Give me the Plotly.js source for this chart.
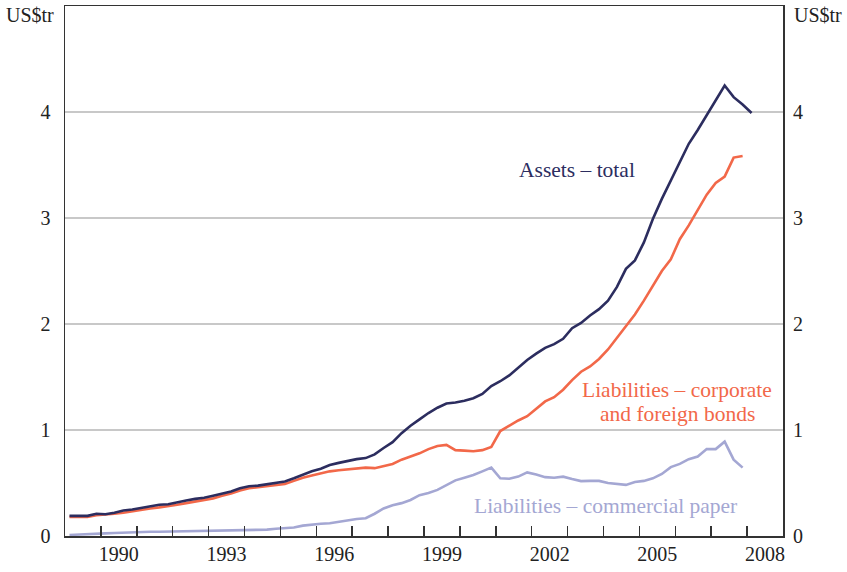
<!DOCTYPE html>
<html>
<head>
<meta charset="utf-8">
<script src="https://cdn.plot.ly/plotly-3.0.1.min.js"></script>
<style>html,body{margin:0;padding:0;background:#fff;}#chart{width:847px;height:572px;}</style>
</head>
<body>
<div id="chart"></div>
<script>
// Quarterly observations (mid-quarter), starting 1989 Q1
const startYear = 1989.125;
const assetsTotal = [0.19,0.19,0.19,0.21,0.205,0.22,0.24,0.25,0.265,0.28,0.295,0.30,0.32,0.335,0.35,0.36,0.38,0.40,0.42,0.45,
  0.47,0.475,0.49,0.50,0.515,0.545,0.58,0.61,0.635,0.67,0.69,0.71,0.725,0.735,0.77,0.83,0.885,0.97,1.04,1.10,
  1.16,1.21,1.25,1.26,1.275,1.30,1.34,1.415,1.46,1.515,1.585,1.66,1.72,1.775,1.81,1.86,1.96,2.01,2.08,2.14,
  2.22,2.35,2.52,2.60,2.77,2.99,3.18,3.35,3.53,3.70,3.83,3.97,4.12,4.25,4.14,4.07,3.99];
const liabBonds = [0.18,0.18,0.18,0.195,0.20,0.21,0.22,0.235,0.245,0.26,0.27,0.28,0.295,0.31,0.325,0.34,0.355,0.38,0.40,0.43,
  0.45,0.46,0.47,0.48,0.49,0.52,0.55,0.57,0.59,0.61,0.62,0.63,0.635,0.645,0.64,0.66,0.68,0.72,0.75,0.78,
  0.82,0.85,0.86,0.81,0.805,0.80,0.81,0.84,0.99,1.04,1.09,1.13,1.20,1.27,1.31,1.38,1.47,1.55,1.60,1.67,
  1.76,1.87,1.99,2.09,2.22,2.36,2.50,2.61,2.80,2.93,3.08,3.22,3.33,3.39,3.57,3.585];
const liabCP = [0.01,0.012,0.015,0.02,0.025,0.028,0.032,0.035,0.038,0.04,0.04,0.042,0.043,0.045,0.048,0.05,0.05,0.048,0.05,0.052,
  0.055,0.056,0.06,0.068,0.074,0.08,0.098,0.11,0.115,0.12,0.135,0.15,0.16,0.168,0.21,0.26,0.29,0.31,0.34,0.385,
  0.405,0.435,0.48,0.525,0.55,0.575,0.61,0.645,0.545,0.54,0.56,0.60,0.58,0.555,0.55,0.56,0.537,0.518,0.52,0.52,
  0.50,0.49,0.482,0.51,0.52,0.544,0.585,0.65,0.68,0.725,0.75,0.82,0.82,0.89,0.72,0.645];
const yearTicks = [1990,1991,1992,1993,1994,1995,1996,1997,1998,1999,2000,2001,2002,2003,2004,2005,2006,2007,2008];
const yearLabels = ['1990','1993','1996','1999','2002','2005','2008'];
const yTicks = [0,1,2,3,4];
const unitLabel = 'US$tr';
const labelAssets = 'Assets – total';
const labelBonds1 = 'Liabilities – corporate';
const labelBonds2 = 'and foreign bonds';
const labelCP = 'Liabilities – commercial paper';

const COL_A = '#2c2d5f', COL_B = '#f26849', COL_C = '#a4a7d3';
const dates = n => Array.from({length:n},(_,i)=>startYear + 0.25*i);
const FONT = 'Liberation Serif, Times New Roman, serif';

const traces = [
  {x: dates(liabCP.length), y: liabCP, type:'scatter', mode:'lines', line:{color:COL_C, width:2.6}, hoverinfo:'skip'},
  {x: dates(liabBonds.length), y: liabBonds, type:'scatter', mode:'lines', line:{color:COL_B, width:2.6}, hoverinfo:'skip'},
  {x: dates(assetsTotal.length), y: assetsTotal, type:'scatter', mode:'lines', line:{color:COL_A, width:2.6}, hoverinfo:'skip'},
  {x: [1989, 2009], y: [null, null], xaxis:'x2', yaxis:'y2', type:'scatter', mode:'lines', showlegend:false, hoverinfo:'skip'}
];

const layout = {
  width: 847, height: 572,
  margin: {l:65, r:64, t:6, b:36},
  paper_bgcolor:'#fff', plot_bgcolor:'#fff',
  showlegend:false,
  font:{family:FONT, size:20, color:'#222'},
  xaxis: {range:[1989,2009], tickmode:'array', tickvals:yearTicks, showticklabels:false,
          ticks:'inside', ticklen:10, tickwidth:1.5, tickcolor:'#333',
          showgrid:false, zeroline:false, showline:true, linecolor:'#333', linewidth:1.5, mirror:true},
  xaxis2: {range:[1989,2009], overlaying:'x', side:'bottom', anchor:'y', tickmode:'array',
           tickvals: yearLabels.map(s=>+s+0.5), ticktext: yearLabels, ticks:'', showgrid:false,
           zeroline:false, showline:false, ticklabelstandoff:4, tickfont:{family:FONT, size:20, color:'#222'}},
  yaxis: {range:[0,5], tickmode:'array', tickvals:yTicks, ticks:'', showgrid:true, gridcolor:'#c8c8c8', gridwidth:1.3,
          zeroline:false, showline:true, linecolor:'#333', linewidth:1.5, mirror:true, ticklabelstandoff:9,
          tickfont:{family:FONT, size:20, color:'#222'}},
  yaxis2: {range:[0,5], overlaying:'y', side:'right', anchor:'x', tickmode:'array', tickvals:yTicks, ticks:'',
           showgrid:false, zeroline:false, showline:false, ticklabelstandoff:9,
           tickfont:{family:FONT, size:20, color:'#222'}},
  annotations: [
    {xref:'paper', yref:'paper', x:-0.012, y:1.0, xanchor:'right', yanchor:'top', text:unitLabel, showarrow:false, font:{family:FONT,size:20,color:'#222'}, yshift:4},
    {xref:'paper', yref:'paper', x:1.012, y:1.0, xanchor:'left', yanchor:'top', text:unitLabel, showarrow:false, font:{family:FONT,size:20,color:'#222'}, yshift:4},
    {xref:'x', yref:'y', x:2003.27, y:3.45, text:labelAssets, showarrow:false, font:{family:FONT,size:21.5,color:COL_A}},
    {xref:'x', yref:'y', x:2006.05, y:1.38, text:labelBonds1, showarrow:false, font:{family:FONT,size:21.5,color:COL_B}},
    {xref:'x', yref:'y', x:2006.05, y:1.155, text:labelBonds2, showarrow:false, font:{family:FONT,size:21.5,color:COL_B}},
    {xref:'x', yref:'y', x:2004.05, y:0.28, text:labelCP, showarrow:false, font:{family:FONT,size:21.5,color:COL_C}}
  ]
};
Plotly.newPlot('chart', traces, layout, {staticPlot:true, displayModeBar:false});
</script>
</body>
</html>
